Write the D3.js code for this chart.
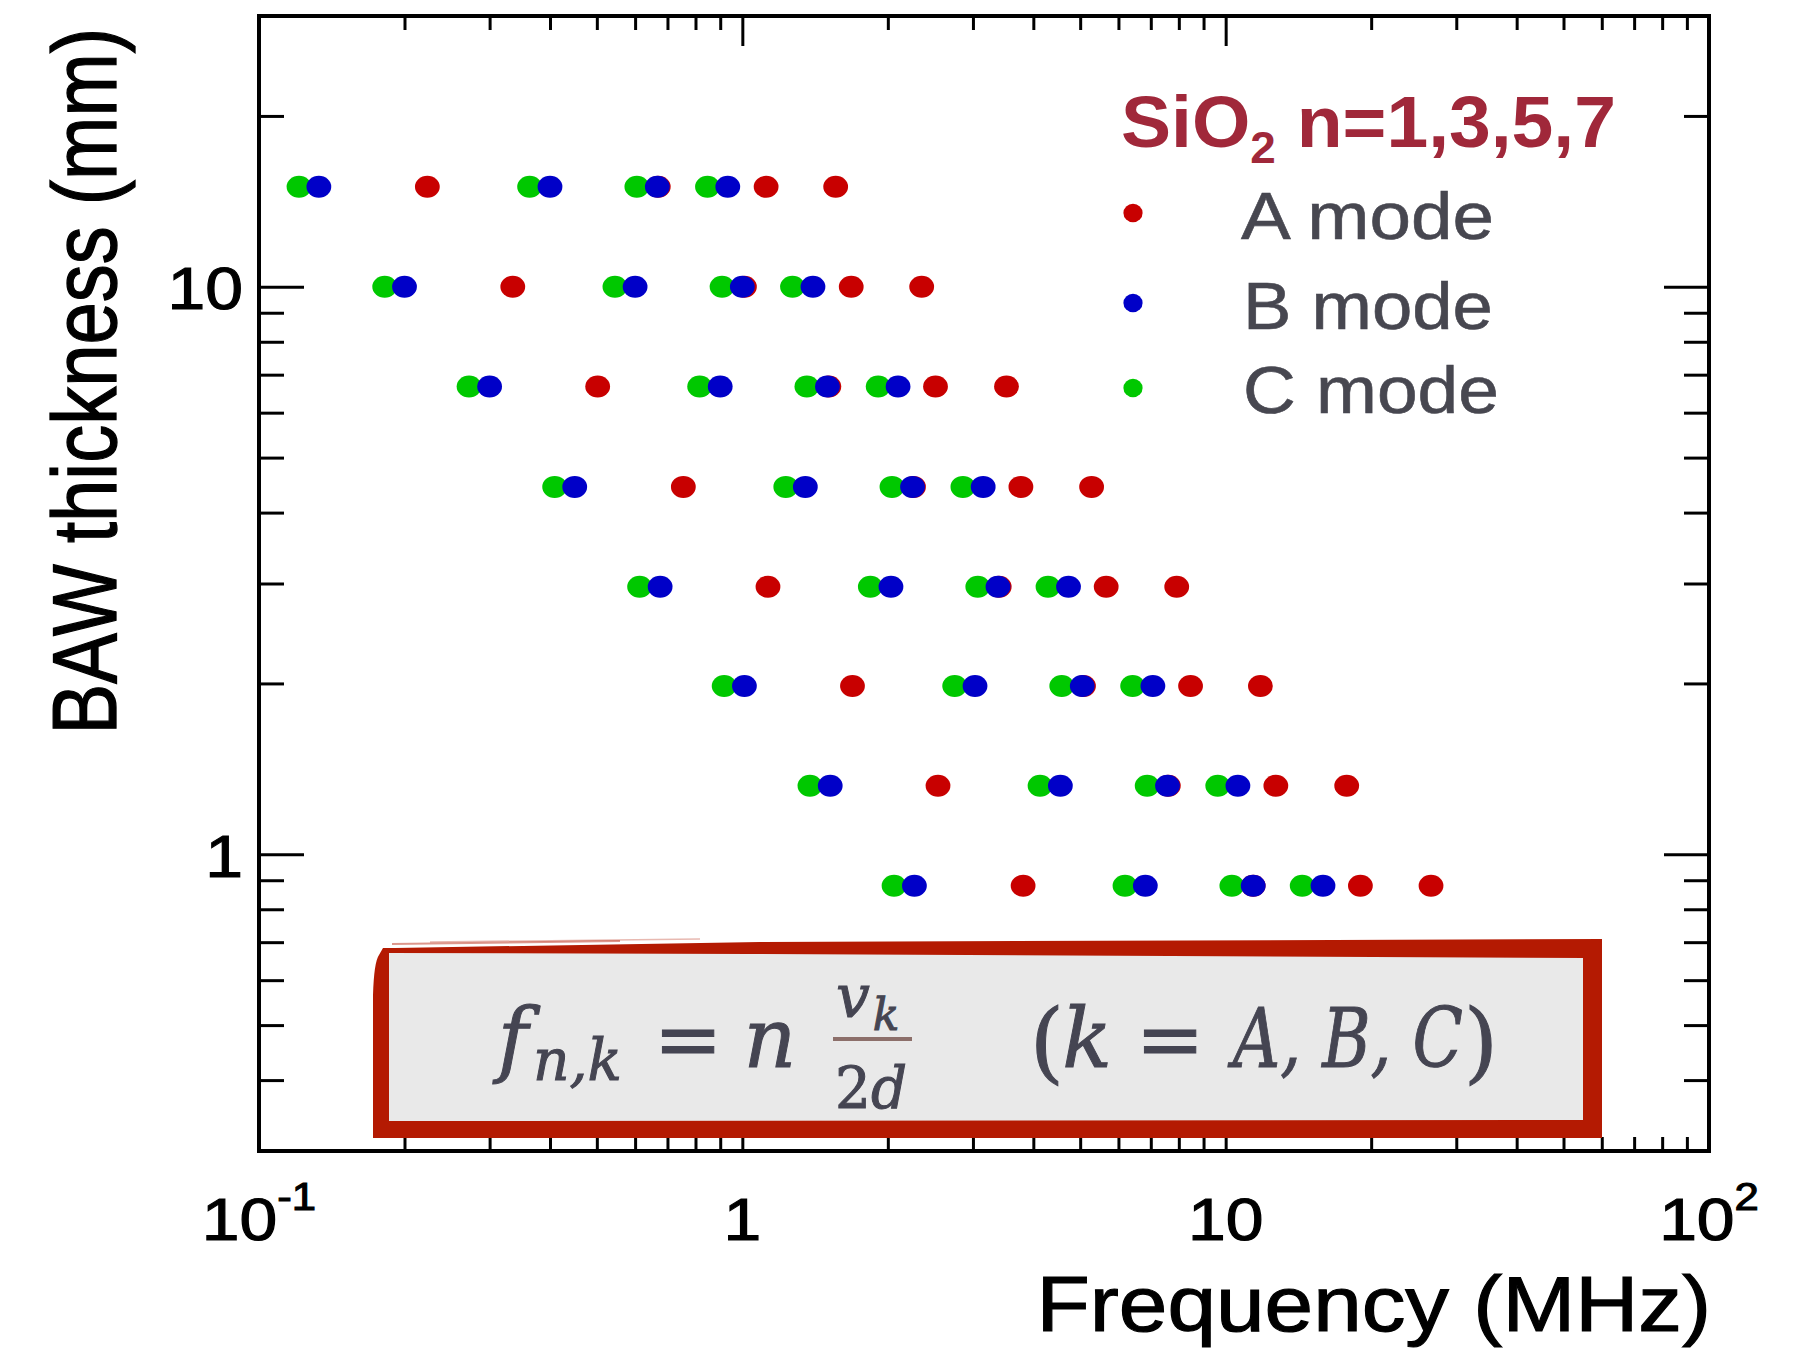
<!DOCTYPE html>
<html>
<head>
<meta charset="utf-8">
<title>BAW thickness vs frequency</title>
<script src="https://cdn.jsdelivr.net/npm/d3@7/dist/d3.min.js"></script>
<style>
  html, body { margin: 0; padding: 0; background: #ffffff; }
  svg { display: block; }
</style>
</head>
<body>
<svg id="chart" width="1803" height="1351"></svg>
<script>
// Crystal thickness of each resonator row (mm)
const thickness = [15, 10, 6.67, 4.44, 2.96, 1.98, 1.32, 0.88];
// Overtone numbers plotted for every mode
const harmonics = [1, 3, 5, 7];
// Resonance frequencies (MHz): one row per thickness, one column per overtone
const freqA = [
  [0.223, 0.670, 1.12, 1.56],
  [0.335, 1.01, 1.68, 2.35],
  [0.502, 1.51, 2.51, 3.52],
  [0.755, 2.26, 3.77, 5.28],
  [1.13, 3.40, 5.66, 7.92],
  [1.69, 5.08, 8.46, 11.8],
  [2.54, 7.61, 12.7, 17.8],
  [3.81, 11.4, 19.0, 26.6]
];
const freqB = [
  [0.133, 0.400, 0.667, 0.933],
  [0.200, 0.600, 1.00, 1.40],
  [0.300, 0.900, 1.50, 2.10],
  [0.450, 1.35, 2.25, 3.15],
  [0.676, 2.03, 3.38, 4.73],
  [1.01, 3.03, 5.05, 7.07],
  [1.52, 4.55, 7.58, 10.6],
  [2.27, 6.82, 11.4, 15.9]
];
const freqC = [
  [0.121, 0.363, 0.605, 0.847],
  [0.182, 0.545, 0.908, 1.27],
  [0.272, 0.816, 1.36, 1.91],
  [0.409, 1.23, 2.04, 2.86],
  [0.613, 1.84, 3.07, 4.29],
  [0.917, 2.75, 4.58, 6.42],
  [1.38, 4.13, 6.88, 9.63],
  [2.06, 6.19, 10.3, 14.4]
];
const modeNames = ["A mode", "B mode", "C mode"];
const modeColors = ["#c80000", "#0000c8", "#00c800"];

// Axis ranges and labelled ticks
const xDomain = [0.1, 100];
const yDomain = [0.3, 30];
const xMajorTicks = [0.1, 1, 10, 100];
const xTickBase = ["10", "1", "10", "10"];
const xTickExp = ["-1", "", "", "2"];
const yMajorTicks = [1, 10];
const yTickLabels = ["1", "10"];
const xTitle = "Frequency (MHz)";
const yTitle = "BAW thickness (mm)";

const ROOT_FONT = "'Liberation Sans', Arial, Helvetica, sans-serif";
const MATH_FONT = "'DejaVu Serif', 'Liberation Serif', serif";

const svg = d3.select("#chart");
svg.append("rect").attr("width", 1803).attr("height", 1351).attr("fill", "#ffffff");

const plot = { left: 259, right: 1709, top: 16, bottom: 1151 };
const x = d3.scaleLog().domain(xDomain).range([plot.left, plot.right]);
const y = d3.scaleLog().domain(yDomain).range([plot.bottom, plot.top]);

const isMajor = (list) => (v) => list.some(m => Math.abs(Math.log10(v / m)) < 1e-9);
const xMinor = x.ticks().filter(v => !isMajor(xMajorTicks)(v));
const yMinor = y.ticks().filter(v => !isMajor(yMajorTicks)(v));

// Inward tick marks on all four sides
function tickLayer(axis, values, size, tx, ty) {
  const g = svg.append("g")
    .attr("transform", `translate(${tx},${ty})`)
    .call(axis.tickValues(values).tickSize(-size).tickFormat(""));
  g.select(".domain").remove();
  g.selectAll(".tick line").attr("stroke", "#000").attr("stroke-width", 3);
  return g;
}
tickLayer(d3.axisBottom(x), xMajorTicks, 30, 0, plot.bottom);
tickLayer(d3.axisBottom(x), xMinor, 14, 0, plot.bottom);
tickLayer(d3.axisTop(x), xMajorTicks, 30, 0, plot.top);
tickLayer(d3.axisTop(x), xMinor, 14, 0, plot.top);
tickLayer(d3.axisLeft(y), yMajorTicks, 45, plot.left, 0);
tickLayer(d3.axisLeft(y), yMinor, 25, plot.left, 0);
tickLayer(d3.axisRight(y), yMajorTicks, 45, plot.right, 0);
tickLayer(d3.axisRight(y), yMinor, 25, plot.right, 0);

// Frame
svg.append("rect")
  .attr("x", plot.left).attr("y", plot.top)
  .attr("width", plot.right - plot.left).attr("height", plot.bottom - plot.top)
  .attr("fill", "none").attr("stroke", "#000").attr("stroke-width", 4);

// Data points: A first, then C, with B on top
const freqs = [freqA, freqB, freqC];
const drawOrder = [0, 2, 1];
const points = [];
drawOrder.forEach(m => {
  thickness.forEach((d, i) => {
    harmonics.forEach((n, j) => {
      points.push({ mode: m, d: d, n: n, f: freqs[m][i][j] });
    });
  });
});
svg.append("g").attr("class", "points")
  .selectAll("ellipse").data(points).join("ellipse")
  .attr("cx", p => x(p.f))
  .attr("cy", p => y(p.d))
  .attr("rx", 12.4).attr("ry", 11)
  .attr("fill", p => modeColors[p.mode]);

// Axis text is horizontally widened and slightly heavier
function rootText(sel) {
  return sel.style("font-family", ROOT_FONT).attr("fill", "#000")
    .attr("stroke", "#000").attr("stroke-width", 1.1);
}

// Tick labels
xMajorTicks.forEach((v, i) => {
  const t = rootText(svg.append("text"))
    .attr("transform", `translate(${x(v)},1240) scale(1.15,1)`)
    .attr("text-anchor", "middle")
    .style("font-size", "59px");
  t.append("tspan").text(xTickBase[i]);
  if (xTickExp[i]) t.append("tspan").attr("dy", -30).style("font-size", "38px").text(xTickExp[i]);
});
yMajorTicks.forEach((v, i) => {
  rootText(svg.append("text"))
    .attr("transform", `translate(243,${y(v) + 22.5}) scale(1.15,1)`)
    .attr("text-anchor", "end")
    .style("font-size", "59px")
    .text(yTickLabels[i]);
});

// Axis titles
rootText(svg.append("text"))
  .attr("transform", "translate(1711,1331) scale(1.12,1)")
  .attr("text-anchor", "end")
  .style("font-size", "78px")
  .text(xTitle);
rootText(svg.append("text"))
  .attr("transform", "translate(116,28) scale(1.19,1) rotate(-90)")
  .attr("text-anchor", "end")
  .style("font-size", "76px")
  .text(yTitle);

// Stretch a text element so its box spans x0..x1
function fitX(sel, x0, x1) {
  const b = sel.node().getBBox();
  const k = (x1 - x0) / b.width;
  sel.attr("transform", `translate(${x0},0) scale(${k},1) translate(${-b.x},0)`);
  return sel;
}

// Legend
const title = svg.append("text").attr("y", 147)
  .style("font-family", ROOT_FONT).style("font-size", "72px").style("font-weight", "bold")
  .attr("fill", "#a0283a");
title.append("tspan").text("SiO");
title.append("tspan").attr("dy", 16).style("font-size", "44px").text("2");
title.append("tspan").attr("dy", -16).text(" n=1,3,5,7");
fitX(title, 1121, 1616);

const legendDotY = [213, 303, 388];
const legendBase = [239, 329, 413];
const legendSpan = [[1241, 1494], [1243, 1493], [1243, 1499]];
modeNames.forEach((name, i) => {
  svg.append("ellipse")
    .attr("cx", 1133).attr("cy", legendDotY[i])
    .attr("rx", 9.6).attr("ry", 9.3)
    .attr("fill", modeColors[i]);
  const t = svg.append("text").attr("y", legendBase[i])
    .style("font-family", ROOT_FONT).style("font-size", "66px")
    .attr("fill", "#474750").attr("stroke", "#474750").attr("stroke-width", 0.6)
    .text(name);
  fitX(t, legendSpan[i][0], legendSpan[i][1]);
});

// Formula panel with a brushed red border
const boxRed = "#b41a02";
svg.append("path")
  .attr("d", "M379,955 L383,948 L395,948 L760,942 L1602,939 L1602,1138 L373,1138 L373,995 Q374,962 379,955 Z")
  .attr("fill", boxRed);
svg.append("path")
  .attr("d", "M392,944 L620,941").attr("stroke", boxRed).attr("stroke-width", 2).attr("opacity", 0.45);
svg.append("path")
  .attr("d", "M430,942 L700,939").attr("stroke", boxRed).attr("stroke-width", 1.5).attr("opacity", 0.3);
svg.append("path")
  .attr("d", "M389,953 L750,954 L1583,958 L1583,1120 L389,1121 Z")
  .attr("fill", "#e9e9e9");

const ink = "#454552";
function mathText(str, cx, base, size, italic) {
  return svg.append("text")
    .attr("x", cx).attr("y", base)
    .attr("text-anchor", "middle")
    .style("font-family", MATH_FONT).style("font-size", size + "px")
    .style("font-style", italic ? "italic" : "normal")
    .attr("fill", ink).attr("stroke", ink).attr("stroke-width", 1)
    .text(str);
}
function mathFit(str, x0, x1, base, size, italic) {
  const t = svg.append("text").attr("y", base)
    .style("font-family", MATH_FONT).style("font-size", size + "px")
    .style("font-style", italic ? "italic" : "normal")
    .attr("fill", ink).attr("stroke", ink).attr("stroke-width", 1)
    .text(str);
  return fitX(t, x0, x1);
}
mathText("f", 513, 1067, 82, true);
mathFit("n,k", 533, 622, 1080, 57, true);
mathText("=", 688, 1067, 82, false);
mathText("n", 770, 1067, 82, true);
mathText("v", 853, 1017, 60, true);
mathText("k", 886, 1030, 44, true);
svg.append("line")
  .attr("x1", 833).attr("x2", 912).attr("y1", 1039).attr("y2", 1039)
  .attr("stroke", "#8c6f6a").attr("stroke-width", 4);
const den = svg.append("text").attr("y", 1108)
  .style("font-family", MATH_FONT).style("font-size", "57px")
  .attr("fill", ink).attr("stroke", ink).attr("stroke-width", 1);
den.append("tspan").text("2");
den.append("tspan").style("font-style", "italic").text("d");
fitX(den, 835, 907);
mathText("(", 1047, 1072, 88, false);
mathText("k", 1087, 1067, 82, true);
mathText("=", 1170, 1067, 82, false);
mathFit("A, B, C", 1227, 1463, 1067, 82, true);
mathText(")", 1481, 1072, 88, false);
</script>
</body>
</html>
